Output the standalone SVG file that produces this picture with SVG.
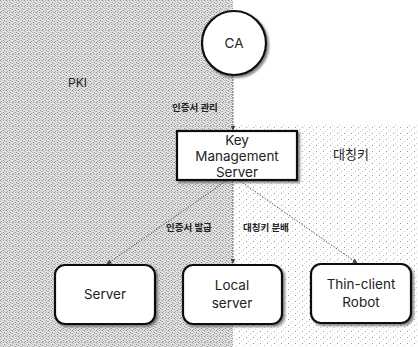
<svg xmlns="http://www.w3.org/2000/svg" width="418" height="347" viewBox="0 0 418 347">
<defs>
<pattern id="pkiDots" width="6" height="6" patternUnits="userSpaceOnUse">
<rect width="6" height="6" fill="#e2e2e2"/>
<rect x="0" y="0" width="1" height="1" fill="#8a8a8a"/>
<rect x="3" y="0" width="1" height="1" fill="#a0a0a0"/>
<rect x="1" y="1" width="1" height="1" fill="#b0b0b0"/>
<rect x="4" y="2" width="1" height="1" fill="#8e8e8e"/>
<rect x="2" y="2" width="1" height="1" fill="#c0c0c0"/>
<rect x="0" y="3" width="1" height="1" fill="#a4a4a4"/>
<rect x="5" y="3" width="1" height="1" fill="#b8b8b8"/>
<rect x="3" y="4" width="1" height="1" fill="#909090"/>
<rect x="1" y="5" width="1" height="1" fill="#9c9c9c"/>
<rect x="4" y="5" width="1" height="1" fill="#b6b6b6"/>
<rect x="5" y="0" width="1" height="1" fill="#c4c4c4"/>
<rect x="2" y="4" width="1" height="1" fill="#c8c8c8"/>
</pattern>
<pattern id="symDots" width="7" height="6" patternUnits="userSpaceOnUse">
<rect width="7" height="6" fill="#ffffff"/>
<rect x="1" y="1" width="1" height="1" fill="#9a9a9a"/>
<rect x="5" y="3" width="1" height="1" fill="#c4c4c4"/>
<rect x="3" y="5" width="1" height="1" fill="#d0d0d0"/>
</pattern>
<marker id="arr" viewBox="0 0 8 8" refX="7" refY="4" markerWidth="5" markerHeight="5" orient="auto">
<path d="M0,0 L8,4 L0,8 z" fill="#444"/>
</marker>
<filter id="shadow" x="-10%" y="-10%" width="130%" height="140%">
<feDropShadow dx="2" dy="2" stdDeviation="1.2" flood-color="#555" flood-opacity="0.7"/>
</filter>
</defs>
<style>
.node { fill: #ffffff; stroke: #111; stroke-width: 2.2; }
.lbl { font-family: Inter, "Open Sans", sans-serif; font-size: 13.5px; fill: #222; text-anchor: middle; }
.kr { font-family: "Noto Sans CJK KR", sans-serif; fill: #222; }
.conn { stroke: #555; stroke-width: 1; stroke-dasharray: 1.5 1.5; fill: none; marker-end: url(#arr); }
</style>
<rect x="0" y="0" width="418" height="347" fill="#ffffff"/>
<g id="pki-region">
<rect x="0" y="0" width="233" height="347" fill="url(#pkiDots)"/>
<text x="68" y="87" font-family="Inter, Open Sans, sans-serif" font-size="12" fill="#222">PKI</text>
</g>
<g id="sym-region">
<rect x="233" y="125" width="185" height="222" fill="url(#symDots)"/>
<text class="kr" x="333" y="159" font-size="13">대칭키</text>
</g>
<g id="connectors">
<line class="conn" x1="233" y1="76" x2="233" y2="130"/>
<line class="conn" x1="226" y1="181" x2="107" y2="264"/>
<line class="conn" x1="233" y1="181" x2="233" y2="263"/>
<line class="conn" x1="240" y1="181" x2="357" y2="263"/>
<text class="kr" x="172" y="111" font-size="9.5" font-weight="bold">인증서 관리</text>
<text class="kr" x="166" y="231" font-size="9.5" font-weight="bold">인증서 발급</text>
<text class="kr" x="243" y="231" font-size="9.5" font-weight="bold">대칭키 분배</text>
</g>
<g id="ca">
<circle class="node" cx="234" cy="43" r="32" filter="url(#shadow)"/>
<text class="lbl" x="234" y="48" font-size="13">CA</text>
</g>
<g id="kms">
<rect class="node" x="177" y="131" width="120" height="49" filter="url(#shadow)"/>
<text class="lbl" x="237" y="145" font-size="12.5">Key</text>
<text class="lbl" x="237" y="161" font-size="12.5">Management</text>
<text class="lbl" x="237" y="177" font-size="12.5">Server</text>
</g>
<g id="server">
<rect class="node" x="55" y="265" width="100" height="59" rx="10" filter="url(#shadow)"/>
<text class="lbl" x="105" y="299">Server</text>
</g>
<g id="local-server">
<rect class="node" x="183" y="265" width="99" height="59" rx="10" filter="url(#shadow)"/>
<text class="lbl" x="232" y="290">Local</text>
<text class="lbl" x="232" y="308">server</text>
</g>
<g id="thin-client">
<rect class="node" x="311" y="264" width="100" height="59" rx="10" filter="url(#shadow)"/>
<text class="lbl" x="361" y="289">Thin-client</text>
<text class="lbl" x="361" y="307">Robot</text>
</g>
</svg>
